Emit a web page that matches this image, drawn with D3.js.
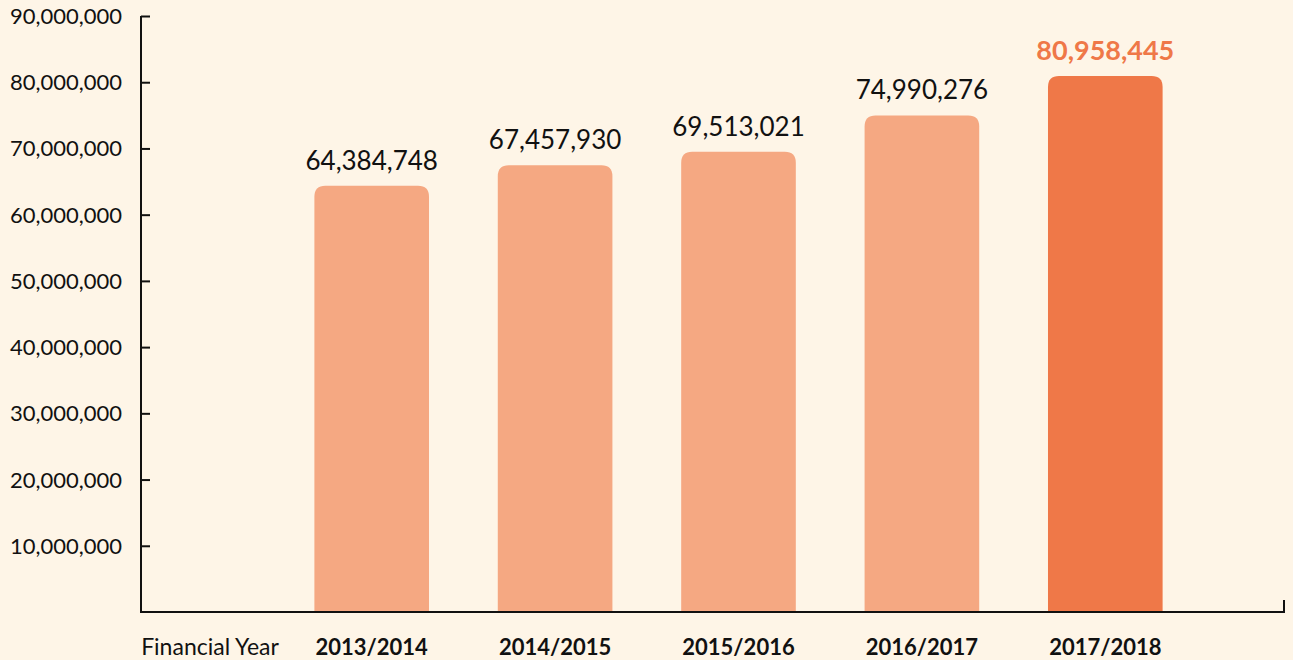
<!DOCTYPE html>
<html>
<head>
<meta charset="utf-8">
<script src="https://cdn.jsdelivr.net/npm/d3@7"></script>
<style>
  body { margin: 0; background: #fef5e7; }
  svg { display: block; font-family: Lato, "Open Sans", sans-serif; }
</style>
</head>
<body>
<script>
// Chart data
var years = ["2013/2014", "2014/2015", "2015/2016", "2016/2017", "2017/2018"];
var values = [64384748, 67457930, 69513021, 74990276, 80958445];
var tickValues = [10000000, 20000000, 30000000, 40000000, 50000000, 60000000, 70000000, 80000000, 90000000];
var highlightYear = "2017/2018";

var width = 1293, height = 660;
var axisX = 141, axisBottom = 612, axisTop = 16, axisRight = 1284;

var svg = d3.select("body").append("svg")
    .attr("width", width)
    .attr("height", height);

svg.append("rect")
    .attr("width", width)
    .attr("height", height)
    .attr("fill", "#fef5e7");

// Scales
var x = d3.scaleBand()
    .domain(years)
    .range([280, 1197])
    .paddingInner(0.375)
    .paddingOuter(0.1875);

var y = d3.scaleLinear()
    .domain([0, 90000000])
    .range([axisBottom, axisTop]);

// Bars with rounded tops
function barPath(x0, y0, w, h, r) {
  return "M" + x0 + "," + (y0 + h) +
    "V" + (y0 + r) +
    "Q" + x0 + "," + y0 + " " + (x0 + r) + "," + y0 +
    "H" + (x0 + w - r) +
    "Q" + (x0 + w) + "," + y0 + " " + (x0 + w) + "," + (y0 + r) +
    "V" + (y0 + h) + "Z";
}

var data = years.map(function(d, i) { return {year: d, value: values[i]}; });

svg.selectAll(".bar")
    .data(data)
    .enter().append("path")
    .attr("class", "bar")
    .attr("d", function(d) {
      return barPath(x(d.year), y(d.value), x.bandwidth(), axisBottom - y(d.value), 11);
    })
    .attr("fill", function(d) { return d.year === highlightYear ? "#ef7848" : "#f5a882"; });

// Value labels
svg.selectAll(".value")
    .data(data)
    .enter().append("text")
    .attr("class", "value")
    .attr("x", function(d) { return x(d.year) + x.bandwidth() / 2; })
    .attr("y", function(d) { return y(d.value) - 16; })
    .attr("text-anchor", "middle")
    .attr("font-size", function(d) { return d.year === highlightYear ? 27 : 26; })
    .attr("font-weight", function(d) { return d.year === highlightYear ? "bold" : "normal"; })
    .attr("fill", function(d) { return d.year === highlightYear ? "#ef7848" : "#111"; })
    .text(function(d) { return d3.format(",")(d.value); });

// Y axis
var yAxis = d3.axisRight(y)
    .tickValues(tickValues)
    .tickSize(9)
    .tickFormat("");

var gy = svg.append("g")
    .attr("transform", "translate(" + axisX + ",0)")
    .call(yAxis);
gy.select(".domain").remove();
gy.selectAll(".tick line").attr("stroke", "#111").attr("stroke-width", 2);

svg.selectAll(".ylabel")
    .data(tickValues)
    .enter().append("text")
    .attr("class", "ylabel")
    .attr("x", 122)
    .attr("y", function(d) { return y(d) + 8; })
    .attr("text-anchor", "end")
    .attr("font-size", 22)
    .attr("fill", "#111")
    .text(function(d) { return d3.format(",")(d); });

// Axis lines
svg.append("path")
    .attr("d", "M" + axisX + "," + axisTop + "V" + axisBottom + "H" + axisRight + "V" + (axisBottom - 12))
    .attr("fill", "none")
    .attr("stroke", "#111")
    .attr("stroke-width", 2);

// X labels
svg.selectAll(".xlabel")
    .data(years)
    .enter().append("text")
    .attr("class", "xlabel")
    .attr("x", function(d) { return x(d) + x.bandwidth() / 2; })
    .attr("y", 655)
    .attr("text-anchor", "middle")
    .attr("font-size", 22)
    .attr("font-weight", "bold")
    .attr("fill", "#111")
    .text(function(d) { return d; });

svg.append("text")
    .attr("x", 210)
    .attr("y", 655)
    .attr("text-anchor", "middle")
    .attr("font-size", 23)
    .attr("fill", "#111")
    .text("Financial Year");
</script>
</body>
</html>
